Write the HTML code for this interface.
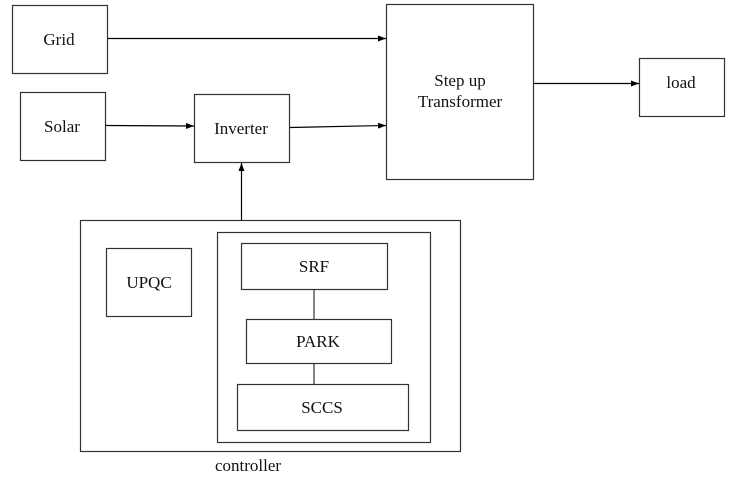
<!DOCTYPE html>
<html><head><style>body{margin:0;background:#fff}</style></head><body>
<svg width="744" height="477" xmlns="http://www.w3.org/2000/svg" font-family="Liberation Serif, serif" font-size="17" fill="none">
<defs><marker id="a" markerWidth="8" markerHeight="6" refX="8" refY="3" orient="auto" markerUnits="userSpaceOnUse"><path d="M0,0L8,3L0,6z" fill="#000"/></marker></defs>
<g stroke="#333" stroke-width="1.2">
<rect x="12.5" y="5.5" width="95" height="68"/>
<rect x="20.5" y="92.5" width="85" height="68"/>
<rect x="194.5" y="94.5" width="95" height="68"/>
<rect x="386.5" y="4.5" width="147" height="175"/>
<rect x="639.5" y="58.5" width="85" height="58"/>
<rect x="80.5" y="220.5" width="380" height="231"/>
<rect x="217.5" y="232.5" width="213" height="210"/>
<rect x="241.5" y="243.5" width="146" height="46"/>
<rect x="246.5" y="319.5" width="145" height="44"/>
<rect x="237.5" y="384.5" width="171" height="46"/>
<rect x="106.5" y="248.5" width="85" height="68"/>
<line x1="314" y1="290" x2="314" y2="319"/>
<line x1="314" y1="364" x2="314" y2="384"/>
</g>
<g stroke="#000" stroke-width="1.2" marker-end="url(#a)">
<line x1="108" y1="38.5" x2="386" y2="38.5"/>
<line x1="106" y1="125.5" x2="194" y2="126"/>
<line x1="290" y1="127.5" x2="386" y2="125.5"/>
<line x1="534" y1="83.5" x2="639" y2="83.5"/>
<line x1="241.5" y1="220" x2="241.5" y2="163"/>
</g>
<g fill="#111" text-anchor="middle">
<text x="59" y="45">Grid</text>
<text x="62" y="132">Solar</text>
<text x="241" y="134">Inverter</text>
<text x="460" y="86">Step up</text>
<text x="460" y="107">Transformer</text>
<text x="681" y="88">load</text>
<text x="149" y="288">UPQC</text>
<text x="314" y="272">SRF</text>
<text x="318" y="347">PARK</text>
<text x="322" y="413">SCCS</text>
<text x="248" y="471">controller</text>
</g>
</svg>
</body></html>
